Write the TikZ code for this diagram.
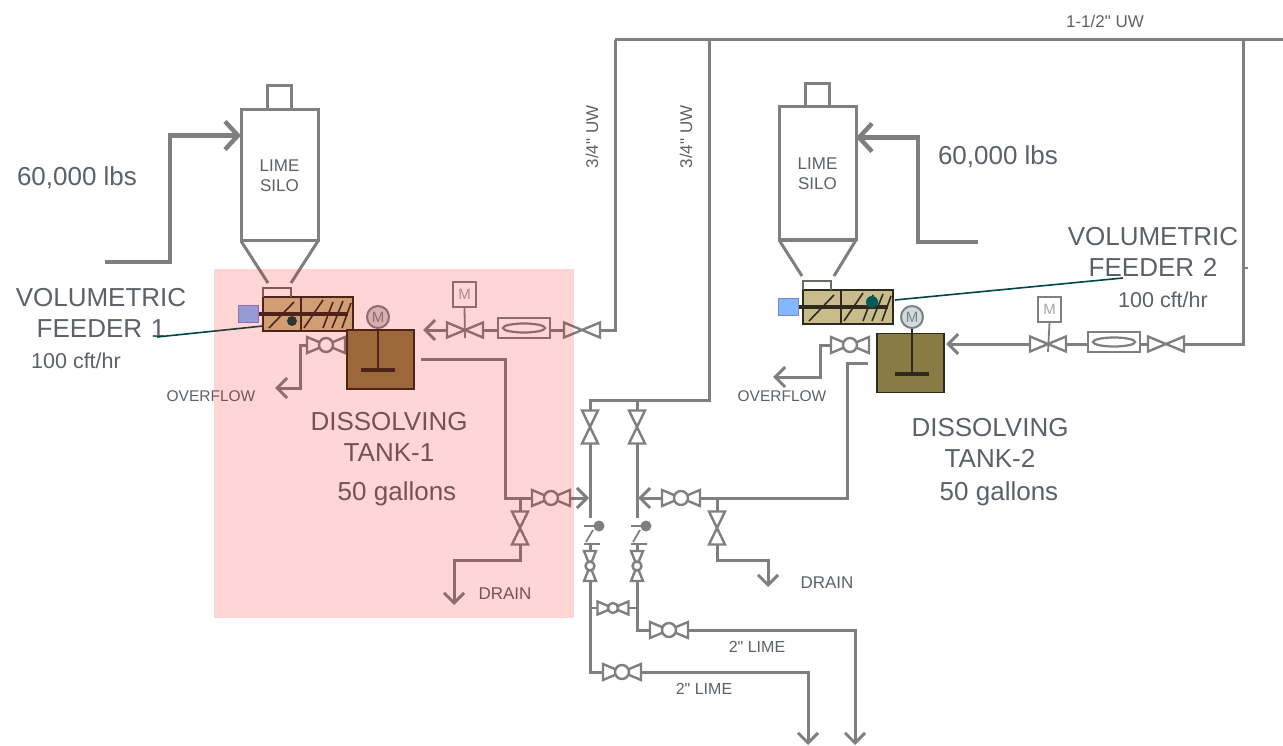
\documentclass[tikz,border=0pt]{standalone}
\usepackage{fontspec}
\setmainfont{Liberation Sans}[Ligatures=TeXOff]
\usepackage{xcolor}
\usetikzlibrary{arrows.meta, positioning, calc}
\definecolor{pipecol}{HTML}{7F7F7F}
\definecolor{labelcol}{HTML}{5C6068}
\definecolor{tankcol}{HTML}{8A7B45}
\definecolor{screwcol}{HTML}{C9BC8C}
\definecolor{darkcol}{HTML}{2E2A1E}
\tikzset{
  pipe/.style={draw=pipecol, line width=3pt},
  flow/.style={pipe, -{Straight Barb[length=10pt,width=20pt]}},
  bigflow/.style={draw=pipecol, line width=4.4pt, -{Straight Barb[length=13pt,width=28pt]}},
  valve/.style={
    rectangle, inner sep=0pt, outer sep=0pt,
    minimum width=36pt, minimum height=15pt,
    append after command={\pgfextra{\draw[draw=pipecol, line width=2.4pt]
      (\tikzlastnode.south west) -- (\tikzlastnode.north east) --
      (\tikzlastnode.south east) -- (\tikzlastnode.north west) -- cycle;}}
  },
  ballvalve/.style={
    valve, minimum width=38pt, minimum height=16pt,
    append after command={\pgfextra{\draw[draw=pipecol, fill=white, line width=2.4pt]
      (\tikzlastnode.center) circle (#1);}}
  },
  ballvalve/.default=7pt,
  silo/.style={
    rectangle, draw=pipecol, fill=white, line width=3pt,
    minimum width=77pt, outer sep=0pt, align=center,
    text=labelcol, font=\fontsize{17}{20}\selectfont
  },
  tank/.style={
    rectangle, draw=darkcol, fill=tankcol, line width=1.8pt,
    minimum width=67pt, minimum height=59pt, outer sep=0pt
  },
  motor/.style={
    circle, draw=pipecol, fill=#1, line width=2pt, minimum size=22pt,
    inner sep=0pt, text=pipecol, font=\fontsize{15}{15}\selectfont
  },
  motor/.default=white,
  mbox/.style={
    rectangle, draw=pipecol, fill=white, line width=2pt,
    minimum width=23pt, minimum height=25pt, inner sep=0pt,
    text=pipecol!70, font=\fontsize{15}{15}\selectfont
  },
  rota/.style={
    rectangle, draw=pipecol, line width=2.4pt,
    minimum width=52pt, minimum height=20pt, outer sep=0pt,
    append after command={\pgfextra{\draw[draw=pipecol, line width=2.2pt]
      (\tikzlastnode.center) ellipse (21pt and 4.5pt);}}
  },
  checkseat/.style={rectangle, minimum width=16pt, minimum height=26pt, inner sep=0pt, outer sep=0pt},
  bluebox/.style={rectangle, draw=blue!40!gray!70, fill=blue!55!cyan!50, line width=1pt, minimum width=20pt, minimum height=17pt},
  zone/.style={rectangle, fill=red, opacity=0.16, inner sep=0pt, outer sep=0pt, anchor=north west},
  bigtext/.style={text=labelcol, align=center, font=\fontsize{26}{31}\selectfont},
  midtext/.style={text=labelcol, font=\fontsize{21.5}{26}\selectfont},
  smalltext/.style={text=labelcol, font=\fontsize{17}{20}\selectfont},
  leader/.style={draw=teal!55!black, line width=1.6pt},
  screwfeed/.pic={
    \draw[draw=darkcol, fill=screwcol, line width=1.8pt] (0,0) rectangle (90,34);
    \draw[draw=darkcol!70, line width=1.6pt] (0,0) -- (0,-9) -- (28,-9) -- (28,0);
    \draw[draw=darkcol, line width=1.6pt] (6,31) -- (31,5) (38,0) -- (38,34)
      (41,31) -- (60,3) (60,31) -- (70,5) (69,31) -- (80,4) (79,31) -- (88,6);
    \draw[draw=darkcol, line width=3.4pt] (-6,17) -- (85,17);
  },
}
\begin{document}
\begin{tikzpicture}[x=1pt, y=-1pt]
  \useasboundingbox (0,0) rectangle (1283,746);

  % Silos
  \node[silo, minimum height=131pt] (siloA) at (279.5,175.5) {LIME\\SILO};
  \node[silo, minimum height=133pt] (siloB) at (817.5,173.5) {LIME\\SILO};
  \node[silo, minimum width=24pt, minimum height=24pt, above=0pt of siloA] (neckA) {};
  \node[silo, minimum width=24pt, minimum height=23pt, above=0pt of siloB] (neckB) {};
  \coordinate (hopA) at (268,283);
  \coordinate (hopAr) at (291,283);
  \coordinate (hopB) at (802,276);
  \coordinate (hopBr) at (834,276);
  \draw[pipe] (siloA.south west) -- (hopA) (siloA.south east) -- (hopAr);
  \draw[pipe] (siloB.south west) -- (hopB) (siloB.south east) -- (hopBr);
  \draw[pipe, line width=4.4pt] (siloB.south west) -- (siloB.south east);

  % Truck fill lines
  \coordinate (fillA) at (105,262);
  \coordinate (fillB) at (978,242);
  \draw[bigflow] (fillA) -| ([xshift=-71pt,yshift=40pt]siloA.west) -- ([yshift=40pt]siloA.west);
  \draw[bigflow] (fillB) -| ([xshift=62pt,yshift=36pt]siloB.east) -- ([yshift=36pt]siloB.east);

  % Feeders
  \pic at (263,297) {screwfeed};
  \pic at (803,290) {screwfeed};
  \node[bluebox] (blueA) at (248,314) {};
  \node[bluebox] (blueB) at (788,307) {};
  \fill[teal!50!black] (292,321) circle (5pt);
  \fill[teal!70!black] (872,302) circle (6pt);
  \node[bigtext, text width=190pt] (feederA) at (101,313) {VOLUMETRIC\\FEEDER 1};
  \node[bigtext, text width=190pt] (feederB) at (1153,252) {VOLUMETRIC\\FEEDER 2};
  \coordinate (leadA) at (157,337);
  \coordinate (leadAe) at (263,326);
  \coordinate (leadB) at (1123,278);
  \coordinate (leadBe) at (895,300);
  \draw[leader] (leadA) -- (leadAe);
  \draw[leader] (leadB) -- (leadBe);

  % Tanks
  \node[tank] (tankA) at (380.5,359.5) {};
  \node[tank] (tankB) at (910.5,363) {};
  \node[motor=pipecol!35] (motorA) at (378,317) {M};
  \node[motor=cyan!25!gray!35] (motorB) at (912,317) {M};
  \coordinate (bladeA) at (378,370);
  \coordinate (bladeB) at (912,374);
  \draw[draw=darkcol, line width=2pt] (motorA) -- (bladeA);
  \draw[draw=darkcol, line width=2pt] (motorB) -- (bladeB);
  \draw[draw=darkcol, line width=3.4pt] ([xshift=-17pt]bladeA) -- ([xshift=17pt]bladeA);
  \draw[draw=darkcol, line width=3.4pt] ([xshift=-17pt]bladeB) -- ([xshift=17pt]bladeB);

  % Water inlets
  \coordinate (mainA) at (615,40);
  \coordinate (mainB) at (709,40);
  \coordinate (mainC) at (1243,40);
  \coordinate (mainE) at (1283,40);
  \draw[pipe] (mainA) -- (mainE);

  \node[valve] (chkA) at (582,330) {};
  \node[rota] (rotaA) at (524,328) {};
  \node[valve] (gvA) at (465,330) {};
  \node[mbox] (mboxA) at (464.5,294.5) {M};
  \coordinate (inA) at (423,330);
  \draw[pipe] (chkA.east) -| (mainA);
  \draw[pipe] (chkA.west) -- (chkA.west -| rotaA.east);
  \draw[pipe] (gvA.east) -- (gvA.east -| rotaA.west);
  \draw[flow] (gvA.west) -- (inA);
  \draw[draw=pipecol, line width=1.8pt] (mboxA.south) -- ([yshift=-8pt]gvA.center);

  \node[valve] (chkB) at (1166,344) {};
  \node[rota] (rotaB) at (1114,342) {};
  \node[valve] (gvB) at (1048,344) {};
  \node[mbox] (mboxB) at (1049.5,309) {M};
  \coordinate (inB) at (946,344);
  \coordinate (tickB) at (1243,268);
  \draw[pipe] (chkB.east) -| (mainC);
  \draw[pipe] (chkB.west) -- (chkB.west -| rotaB.east);
  \draw[pipe] (gvB.east) -- (gvB.east -| rotaB.west);
  \draw[flow] (gvB.west) -- (inB);
  \draw[draw=pipecol, line width=1.8pt] (mboxB.south) -- ([yshift=-8pt]gvB.center);
  \draw[pipe, line width=1.6pt] (tickB) -- ++(5pt,0pt);

  % Overflows
  \node[ballvalve] (ovA) at (326,345) {};
  \node[ballvalve] (ovB) at (850,345) {};
  \coordinate (ovAb) at (300,388);
  \coordinate (ovAe) at (275,388);
  \coordinate (ovBb) at (820,377);
  \coordinate (ovBe) at (773,377);
  \draw[flow] (ovA.west) -| (ovAb) -- (ovAe);
  \draw[flow] (ovB.west) -| (ovBb) -- (ovBe);

  % Tank outlets and drains
  \coordinate (outA) at (421,359);
  \coordinate (bendA) at (505,498);
  \coordinate (mixA) at (589,498);
  \coordinate (jctA) at (520,498);
  \coordinate (drA) at (520,560);
  \coordinate (drAe) at (454,605);
  \node[ballvalve] (bvA) at (551,498) {};
  \node[valve, rotate=90, minimum width=33pt, minimum height=16pt] (gvE) at (520,528) {};
  \draw[pipe] (outA) -| (bendA) -- (bvA.west);
  \draw[flow] (bvA.east) -- (mixA);
  \draw[pipe] (jctA) -- (gvE.east);
  \draw[flow] (gvE.west) -- (drA) -| (drAe);

  \coordinate (outB) at (868,363);
  \coordinate (bendB) at (847,498);
  \coordinate (mixB) at (638,498);
  \coordinate (jctB) at (717,498);
  \coordinate (drB) at (717,560);
  \coordinate (drBe) at (768,587);
  \node[ballvalve] (bvB) at (681,498) {};
  \node[valve, rotate=90, minimum width=33pt, minimum height=16pt] (gvF) at (717,528) {};
  \draw[pipe] (outB) -| (bendB) -- (bvB.east);
  \draw[flow] (bvB.west) -- (mixB);
  \draw[pipe] (jctB) -- (gvF.east);
  \draw[flow] (gvF.west) -- (drB) -| (drBe);

  % Lime risers
  \coordinate (uwC) at (590,400);
  \coordinate (uwD) at (637,400);
  \node[valve, rotate=90, minimum width=33pt, minimum height=16pt] (gvC) at (590,427) {};
  \node[valve, rotate=90, minimum width=33pt, minimum height=16pt] (gvD) at (637,427) {};
  \draw[pipe] (mainB) |- (uwC) -- (gvC.east);
  \draw[pipe] (uwD) -- (gvD.east);

  \node[checkseat] (swingA) at (590,531) {};
  \node[checkseat] (swingB) at (637,531) {};
  \draw[pipe] (gvC.west) -- (swingA.north);
  \draw[pipe] (gvD.west) -- (swingB.north);
  \foreach \chk in {swingA, swingB} {
    \draw[draw=pipecol, line width=1.8pt]
      ([shift={(2pt,-8pt)}]\chk.north west) -- ++(12pt,0pt)
      ([shift={(11pt,-12pt)}]\chk.north west) -- ([shift={(4pt,-24pt)}]\chk.north west)
      ([shift={(2pt,-26pt)}]\chk.north west) -- ([shift={(18pt,-26pt)}]\chk.north west);
    \fill[pipecol] ([shift={(17pt,-8pt)}]\chk.north west) circle (5.5pt);
  }

  \node[ballvalve=4.5pt, rotate=90, minimum width=30pt, minimum height=12pt] (bvC) at (590,566) {};
  \node[ballvalve=4.5pt, rotate=90, minimum width=30pt, minimum height=12pt] (bvD) at (637,566) {};
  \node[ballvalve=5pt, minimum width=31pt, minimum height=13pt] (bvX) at (613,608) {};
  \node[ballvalve] (bvE) at (622,672) {};
  \node[ballvalve] (bvF) at (669,630) {};
  \coordinate (limeA) at (808,745);
  \coordinate (limeB) at (855,745);
  \draw[pipe] (swingA.south) -- (bvC.east);
  \draw[pipe] (swingB.south) -- (bvD.east);
  \draw[pipe] (bvC.west) |- (bvE.west);
  \draw[pipe] (bvD.west) |- (bvF.west);
  \draw[pipe, line width=2.4pt] (bvX.west) -- (bvX.west -| swingA.south);
  \draw[pipe, line width=2.4pt] (bvX.east) -- (bvX.east -| swingB.south);
  \draw[flow] (bvE.east) -| (limeA);
  \draw[flow] (bvF.east) -| (limeB);

  % Labels
  \node[bigtext] (lbsA) at (77,178) {60,000 lbs};
  \node[bigtext] (lbsB) at (998,157) {60,000 lbs};
  \node[midtext] (rateA) at (76,361) {100 cft/hr};
  \node[midtext] (rateB) at (1163,300) {100 cft/hr};
  \node[bigtext] (dissA) at (389,437) {DISSOLVING\\TANK-1};
  \node[bigtext] (dissB) at (990,443) {DISSOLVING\\TANK-2};
  \node[bigtext] (galA) at (397,494) {50 gallons};
  \node[bigtext] (galB) at (999,494) {50 gallons};
  \node[smalltext, font=\fontsize{15.5}{18}\selectfont] (overA) at (211,396) {OVERFLOW};
  \node[smalltext, font=\fontsize{15.5}{18}\selectfont] (overB) at (782,396) {OVERFLOW};
  \node[smalltext] (drainA) at (505,594) {DRAIN};
  \node[smalltext] (drainB) at (827,583) {DRAIN};
  \node[smalltext, font=\fontsize{16}{18}\selectfont] (limeLa) at (757,647) {2" LIME};
  \node[smalltext, font=\fontsize{16}{18}\selectfont] (limeLb) at (704,689) {2" LIME};
  \node[smalltext] (uwMain) at (1105,21) {1-1/2" UW};
  \node[smalltext, rotate=90] (uwA) at (592,137) {3/4" UW};
  \node[smalltext, rotate=90] (uwB) at (686,137) {3/4" UW};

  % Train 1 area
  \node[zone, minimum width=360pt, minimum height=349pt] (zoneA) at (214,269) {};
\end{tikzpicture}
\end{document}
